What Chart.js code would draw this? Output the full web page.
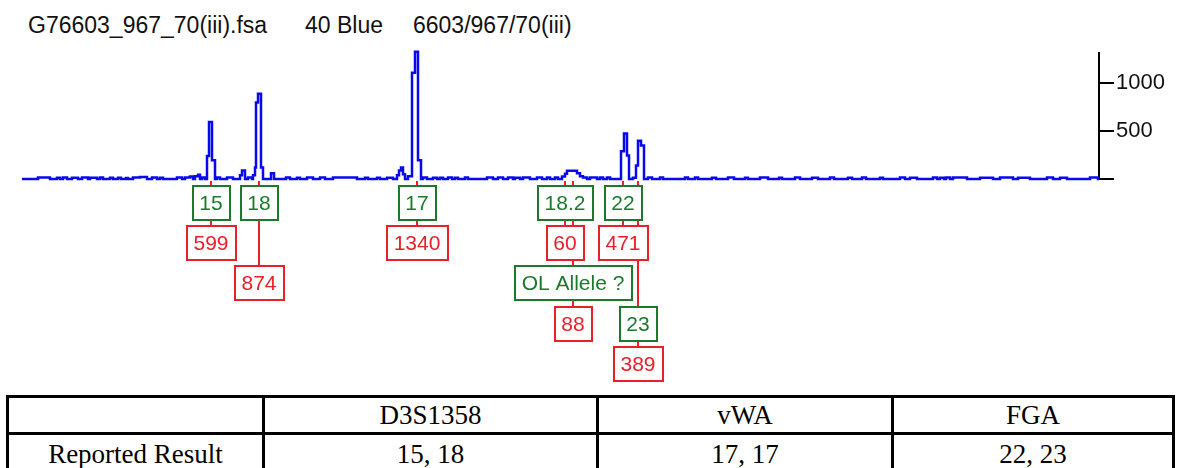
<!DOCTYPE html>
<html>
<head>
<meta charset="utf-8">
<script src="https://cdn.jsdelivr.net/npm/chart.js@4.4.1/dist/chart.umd.min.js"></script>
<style>
html,body{margin:0;padding:0;background:#fff;overflow:hidden;width:1179px;height:468px;}
#wrap{position:relative;width:1179px;height:468px;overflow:hidden;}
#title span{position:absolute;top:14px;white-space:nowrap;line-height:1;font-family:"Liberation Sans",Arial,sans-serif;font-size:23px;color:#111;}
canvas{position:absolute;left:0;top:0;}
#tbl{position:absolute;left:6px;top:395px;width:1166px;border-collapse:collapse;table-layout:fixed;font-family:"Liberation Serif","Times New Roman",serif;font-size:27px;color:#000;}
#tbl td{border:3px solid #000;text-align:center;vertical-align:middle;padding:0;line-height:1;}
</style>
</head>
<body>
<div id="wrap">
  <div id="title"></div>
  <canvas id="c" width="1179" height="392"></canvas>
  <table id="tbl">
    <colgroup><col style="width:256px"><col style="width:334px"><col style="width:295px"><col style="width:281px"></colgroup>
  </table>
</div>
<script>
// ---------- data ----------
const titleParts = ['G76603_967_70(iii).fsa', '40 Blue', '6603/967/70(iii)'];
const yTickValues = [0, 500, 1000];

// called peaks
const peakScan   = [211, 259, 417, 565, 573, 623, 638];
const peakAllele = ['15', '18', '17', '18.2', 'OL Allele ?', '22', '23'];
const peakHeight = [599, 874, 1340, 60, 88, 471, 389];

// blue trace (scan position, RFU) – level changes at each scan position
const traceScan = [22,38,50,57,60,63,67,72,78,82,88,90,97,100,103,110,113,118,121,126,128,133,140,147,152,157,160,163,177,182,185,190,193,195,198,200,202,205,
  207,209,212,215,217,220,227,233,240,242,245,248,252,253,255,256,258,261,263,
  271,274,286,290,297,300,307,313,320,325,333,357,365,368,377,380,387,393,397,399,401,403,405,408,412,415,418,421,
  423,427,433,437,440,443,448,452,455,458,465,468,487,493,498,503,508,513,515,520,523,530,537,542,547,550,555,558,
  562,565,567,577,580,583,587,590,597,600,603,607,610,
  621,624,627,629,633,636,638,641,644,
  648,652,660,663,685,688,695,698,
  712,716,728,734,745,748,760,768,779,782,795,800,812,818,830,834,848,852,862,866,
  880,883,900,905,910,917,933,937,940,944,946,950,953,967,980,993,1000,1013,1018,1030,1047,1053,1060,1067,1090,1098,1099];
const traceRfu = [0,15,0,12,0,15,0,12,0,15,0,12,0,15,0,12,0,12,0,10,0,15,20,0,15,0,12,0,15,0,15,25,0,30,45,0,15,0,
  240,595,195,0,15,0,15,0,40,90,0,15,0,40,120,800,890,120,0,
  60,0,15,0,12,0,15,0,15,0,15,0,12,0,12,0,12,0,40,90,120,50,0,30,1110,1330,195,0,
  15,0,12,0,12,0,15,0,12,0,15,0,15,0,15,0,15,0,12,0,15,0,15,0,15,0,15,0,
  25,55,85,60,30,15,0,15,0,15,0,15,0,
  290,475,245,0,12,140,400,350,0,
  15,0,15,0,15,0,15,0,
  12,0,15,0,12,0,15,0,12,0,15,0,12,0,15,0,12,0,15,0,
  12,0,15,0,12,0,15,0,12,0,15,0,15,0,12,0,15,0,12,0,15,0,12,0,15,0,0];

// results table
const tableLoci = ['D3S1358', 'vWA', 'FGA'];
const tableRowLabel = 'Reported Result';
const tableResults = ['15, 18', '17, 17', '22, 23'];

// ---------- title ----------
const titleLeft = [28, 305, 413];
const titleEl = document.getElementById('title');
titleParts.forEach((t, i) => {
  const s = document.createElement('span');
  s.textContent = t; s.style.left = titleLeft[i] + 'px';
  titleEl.appendChild(s);
});

// ---------- table ----------
const tbl = document.getElementById('tbl');
const r1 = tbl.insertRow(); r1.style.height = '37px';
r1.insertCell().innerHTML = '&nbsp;';
tableLoci.forEach(l => { r1.insertCell().textContent = l; });
const r2 = tbl.insertRow(); r2.style.height = '42px';
r2.insertCell().textContent = tableRowLabel;
tableResults.forEach(v => { r2.insertCell().textContent = v; });

// ---------- chart ----------
const GREEN = '#1b7a2b';
const RED = '#e8202a';
const LABEL_FONT = '21px "Liberation Sans", Arial, sans-serif';

const alleleLabels = {
  id: 'alleleLabels',
  afterDraw(chart) {
    const { ctx, chartArea, scales } = chart;
    const xs = scales.x;
    const base = chartArea.bottom;
    const row0 = base + 7, rowStep = 40.2, boxH = 34, padX = 7;
    ctx.save();
    ctx.font = LABEL_FONT;
    const rows = [];
    const fits = (r, l, rt) => !(rows[r] || []).some(([a, b]) => l < b && rt > a);
    const placed = [];
    peakScan.forEach((s, i) => {
      const px = Math.round(xs.getPixelForValue(s));
      const items = [{ t: peakAllele[i], c: GREEN }, { t: String(peakHeight[i]), c: RED }];
      let r = 0;
      const boxes = [];
      items.forEach(it => {
        const w = Math.round(ctx.measureText(it.t).width + 2 * padX);
        const l = px - w / 2, rt = px + w / 2;
        while (!fits(r, l, rt)) r++;
        (rows[r] = rows[r] || []).push([l, rt]);
        boxes.push(Object.assign({}, it, { l: Math.round(l), w, r }));
        r++;
      });
      placed.push({ px, boxes });
    });
    // connectors
    ctx.strokeStyle = RED; ctx.lineWidth = 2;
    placed.forEach(p => {
      const last = p.boxes[p.boxes.length - 1];
      ctx.beginPath();
      ctx.moveTo(p.px, base + 2);
      ctx.lineTo(p.px, Math.round(row0 + last.r * rowStep));
      ctx.stroke();
    });
    // boxes
    ctx.textAlign = 'center'; ctx.textBaseline = 'middle';
    placed.forEach(p => p.boxes.forEach(b => {
      const top = Math.round(row0 + b.r * rowStep);
      ctx.fillStyle = '#fff'; ctx.fillRect(b.l, top, b.w, boxH);
      ctx.strokeStyle = b.c; ctx.lineWidth = 2; ctx.strokeRect(b.l, top, b.w, boxH);
      ctx.fillStyle = b.c; ctx.fillText(b.t, p.px, top + boxH / 2 + 1);
    }));
    ctx.restore();
  }
};

new Chart(document.getElementById('c'), {
  type: 'line',
  data: {
    datasets: [{
      data: traceScan.map((s, i) => ({ x: s, y: traceRfu[i] })),
      borderColor: '#0808ee',
      borderWidth: 2.5,
      pointRadius: 0,
      stepped: true,
      tension: 0,
      fill: false,
      clip: false
    }]
  },
  options: {
    responsive: false,
    animation: false,
    events: [],
    layout: { padding: { left: 22, right: 0, top: 53, bottom: 213 } },
    plugins: { legend: { display: false }, tooltip: { enabled: false }, title: { display: false } },
    scales: {
      x: { type: 'linear', min: 22, max: 1099, display: false },
      y: {
        type: 'linear', position: 'right', min: 0, max: 1317,
        afterBuildTicks: s => { s.ticks = yTickValues.map(v => ({ value: v })); },
        afterFit: s => { s.width = 80; },
        border: { display: true, color: '#000', width: 2 },
        grid: { drawOnChartArea: false, drawTicks: true, tickLength: 15, color: '#000', lineWidth: 2 },
        ticks: {
          padding: 2, color: '#111',
          font: { family: '"Liberation Sans", Arial, sans-serif', size: 22 },
          callback: v => (v === 0 ? '' : String(v))
        }
      }
    }
  },
  plugins: [alleleLabels]
});
</script>
</body>
</html>
